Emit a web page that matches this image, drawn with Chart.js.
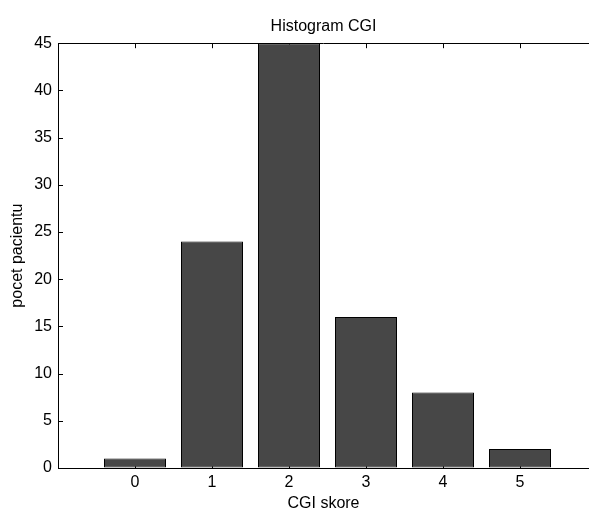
<!DOCTYPE html>
<html>
<head>
<meta charset="utf-8">
<title>Histogram CGI</title>
<script src="https://cdn.jsdelivr.net/npm/chart.js@4.4.1/dist/chart.umd.min.js"></script>
<style>
  html, body { margin: 0; padding: 0; background: #ffffff; overflow: hidden; }
  #wrap { width: 589px; height: 510px; }
</style>
</head>
<body>
<div id="wrap"><canvas id="histChart" width="589" height="510"></canvas></div>
<script>
// CGI score categories and patient counts
const scores = [0, 1, 2, 3, 4, 5];
const counts = [1, 24, 45, 16, 8, 2];
const xTickLabels = ["0", "1", "2", "3", "4", "5"];
const yTickValues = [0, 5, 10, 15, 20, 25, 30, 35, 40, 45];

const fontFamily = "'Liberation Sans', Arial, Helvetica, sans-serif";

// MATLAB style top border + inward ticks, drawn under the bars
// (the right edge of the axes box falls outside the picture)
const matlabBox = {
  id: "matlabBox",
  beforeDatasetsDraw(chart) {
    const { ctx, chartArea } = chart;
    const xs = chart.scales.x;
    const ys = chart.scales.y;
    ctx.save();
    ctx.strokeStyle = "#000000";
    ctx.lineWidth = 1;
    ctx.beginPath();
    ctx.moveTo(chartArea.left, Math.round(chartArea.top) + 0.5);
    ctx.lineTo(chartArea.right, Math.round(chartArea.top) + 0.5);
    yTickValues.forEach((v) => {
      const y = Math.round(ys.getPixelForValue(v)) + 0.5;
      ctx.moveTo(chartArea.left, y);
      ctx.lineTo(chartArea.left + 5, y);
    });
    scores.forEach((v) => {
      const x = Math.round(xs.getPixelForValue(v)) + 0.5;
      ctx.moveTo(x, chartArea.top);
      ctx.lineTo(x, chartArea.top + 5);
      ctx.moveTo(x, chartArea.bottom);
      ctx.lineTo(x, chartArea.bottom - 5);
    });
    ctx.stroke();
    ctx.restore();
  },
};

const ctx = document.getElementById("histChart").getContext("2d");

const histChart = new Chart(ctx, {
  type: "bar",
  data: {
    datasets: [
      {
        label: "pocet pacientu",
        data: scores.map((s, i) => ({ x: s, y: counts[i] })),
        backgroundColor: "#474747",
        borderColor: "#000000",
        borderWidth: 1,
        borderSkipped: false,
        inflateAmount: 0,
        barPercentage: 62 / 77,
        categoryPercentage: 1.0,
      },
    ],
  },
  options: {
    responsive: false,
    animation: false,
    layout: { padding: 0 },
    scales: {
      x: {
        type: "linear",
        min: -1,
        max: 5.896,
        offset: false,
        afterFit: (scale) => {
          scale.height = 42;
          scale.paddingLeft = 0;
          scale.paddingRight = 0;
        },
        grid: { display: true, offset: false, drawOnChartArea: false, drawTicks: false },
        border: { display: true, color: "#000000", width: 1 },
        ticks: {
          stepSize: 1,
          includeBounds: false,
          autoSkip: false,
          maxRotation: 0,
          padding: 5,
          color: "#000000",
          font: { family: fontFamily, size: 16 },
          callback: (v) => (xTickLabels[v] !== undefined ? xTickLabels[v] : ""),
        },
        title: {
          display: true,
          text: "CGI skore",
          color: "#000000",
          padding: { top: 0, bottom: -2 },
          font: { family: fontFamily, size: 16, lineHeight: 1 },
        },
      },
      y: {
        min: 0,
        max: 45,
        afterFit: (scale) => { scale.width = 58; },
        grid: { display: true, drawOnChartArea: false, drawTicks: false },
        border: { display: true, color: "#000000", width: 1 },
        ticks: {
          stepSize: 5,
          padding: 6,
          color: "#000000",
          font: { family: fontFamily, size: 16 },
        },
        title: {
          display: true,
          text: "pocet pacientu",
          color: "#000000",
          padding: { top: 8, bottom: 0 },
          font: { family: fontFamily, size: 16 },
        },
      },
    },
    plugins: {
      legend: { display: false },
      tooltip: { enabled: false },
      title: {
        display: true,
        text: "Histogram CGI",
        fullSize: false,
        color: "#000000",
        padding: { top: 17, bottom: 7 },
        font: { family: fontFamily, size: 16, weight: "normal" },
      },
    },
  },
  plugins: [matlabBox],
});
</script>
</body>
</html>
